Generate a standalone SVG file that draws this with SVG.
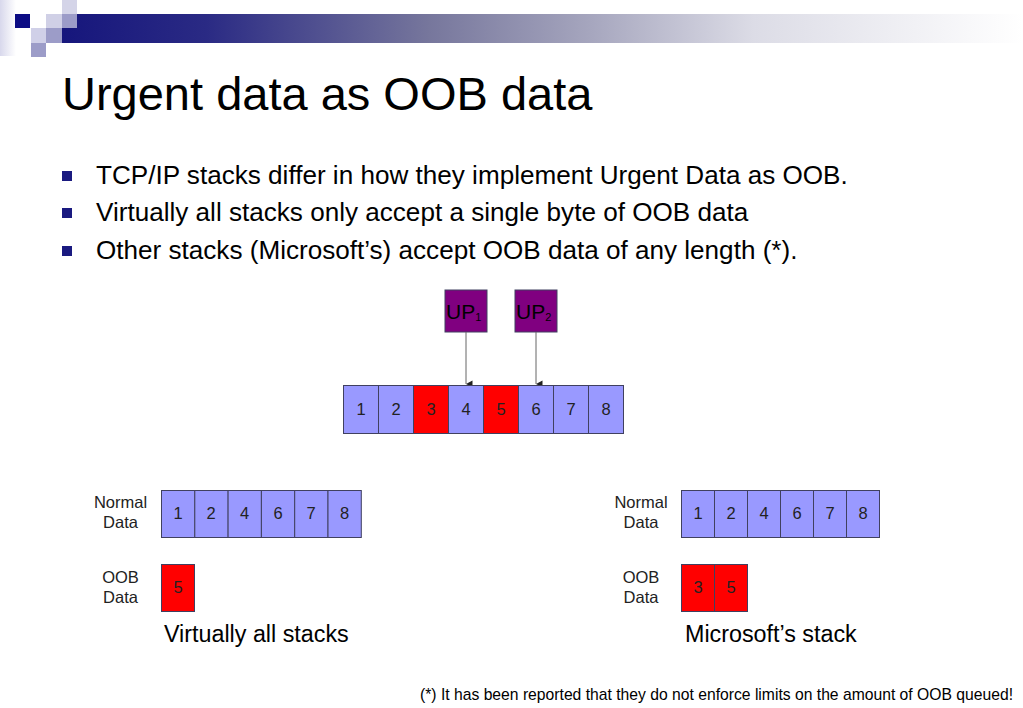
<svg xmlns="http://www.w3.org/2000/svg" width="1023" height="708" viewBox="0 0 1023 708">
<defs>
<linearGradient id="bar" x1="0" y1="0" x2="1" y2="0">
<stop offset="0" stop-color="#16167c"/>
<stop offset="0.15" stop-color="#2a2a84"/>
<stop offset="0.38" stop-color="#76769c"/>
<stop offset="0.55" stop-color="#a6a6be"/>
<stop offset="0.72" stop-color="#dcdce6"/>
<stop offset="1" stop-color="#ffffff"/>
</linearGradient>
<linearGradient id="glow" x1="0" y1="0" x2="1" y2="0">
<stop offset="0" stop-color="#d8d8ec"/>
<stop offset="1" stop-color="#ffffff"/>
</linearGradient>
<marker id="ah" markerWidth="8" markerHeight="8" refX="4" refY="7" orient="auto" markerUnits="userSpaceOnUse">
<path d="M0.5,0.5 L4,7 L7.5,0.5 Z" fill="#222"/>
</marker>
<style>
.t{font-family:"Liberation Sans",Arial,sans-serif;fill:#000}
.c{font-family:"Liberation Sans",Arial,sans-serif;fill:#222;font-size:16.5px;text-anchor:middle}
.lab{font-family:"Liberation Sans",Arial,sans-serif;fill:#222;font-size:16.5px;text-anchor:middle}
.n{fill:#9999ff;stroke:#404060;stroke-width:1}
.r{fill:#ff0000;stroke:#404060;stroke-width:1}
.up{fill:#800080;stroke:#404060;stroke-width:1}
.b{fill:#1a1a80}
</style>
</defs>
<g id="header">
<rect x="0" y="0" width="16" height="56" fill="url(#glow)"/>
<rect x="62" y="14" width="961" height="29" fill="url(#bar)"/>
<rect x="15" y="14" width="15" height="14" fill="#0c0c84"/>
<rect x="46" y="14" width="16" height="14" fill="#d0d0e6"/>
<rect x="62" y="0" width="15" height="14" fill="#d4d4e8"/>
<rect x="62" y="14" width="15" height="14" fill="#9c9cc8"/>
<rect x="31" y="28" width="15" height="15" fill="#d0d0e8"/>
<rect x="46" y="28" width="16" height="15" fill="#9c9cc8"/>
<rect x="31" y="43" width="15" height="14" fill="#9c9cc8"/>
</g>
<g id="title">
<text class="t" x="62" y="110" font-size="47">Urgent data as OOB data</text>
</g>
<g id="bullets">
<rect class="b" x="62" y="171" width="10" height="10"/>
<rect class="b" x="62" y="208" width="10" height="10"/>
<rect class="b" x="62" y="246" width="10" height="10"/>
<text class="t" x="96" y="184" font-size="26.1">TCP/IP stacks differ in how they implement Urgent Data as OOB.</text>
<text class="t" x="96" y="221" font-size="26.1">Virtually all stacks only accept a single byte of OOB data</text>
<text class="t" x="96" y="259" font-size="26.1">Other stacks (Microsoft’s) accept OOB data of any length (*).</text>
</g>
<g id="up1">
<rect class="up" x="445" y="290" width="42" height="42"/>
<text class="t" x="446" y="319" font-size="21" fill="#222">UP<tspan font-size="11" dy="2">1</tspan></text>
</g>
<g id="up2">
<rect class="up" x="515" y="290" width="42" height="42"/>
<text class="t" x="516" y="319" font-size="21" fill="#222">UP<tspan font-size="11" dy="2">2</tspan></text>
</g>
<g id="connectors">
<line x1="466" y1="332" x2="466" y2="384" stroke="#666" stroke-width="1" marker-end="url(#ah)"/>
<line x1="536" y1="332" x2="536" y2="384" stroke="#666" stroke-width="1" marker-end="url(#ah)"/>
</g>
<g id="stream">
<rect class="n" x="343.5" y="385.5" width="35" height="48"/>
<rect class="n" x="378.5" y="385.5" width="35" height="48"/>
<rect class="r" x="413.5" y="385.5" width="35" height="48"/>
<rect class="n" x="448.5" y="385.5" width="35" height="48"/>
<rect class="r" x="483.5" y="385.5" width="35" height="48"/>
<rect class="n" x="518.5" y="385.5" width="35" height="48"/>
<rect class="n" x="553.5" y="385.5" width="35" height="48"/>
<rect class="n" x="588.5" y="385.5" width="35" height="48"/>
<text class="c" x="361" y="415">1</text>
<text class="c" x="396" y="415">2</text>
<text class="c" x="431" y="415">3</text>
<text class="c" x="466" y="415">4</text>
<text class="c" x="501" y="415">5</text>
<text class="c" x="536" y="415">6</text>
<text class="c" x="571" y="415">7</text>
<text class="c" x="606" y="415">8</text>
</g>
<g id="left-normal">
<text class="lab" x="120.5" y="508">Normal</text>
<text class="lab" x="120.5" y="528">Data</text>
<rect class="n" x="161.5" y="490.5" width="33.3" height="47"/>
<rect class="n" x="194.8" y="490.5" width="33.3" height="47"/>
<rect class="n" x="228.1" y="490.5" width="33.3" height="47"/>
<rect class="n" x="261.4" y="490.5" width="33.3" height="47"/>
<rect class="n" x="294.7" y="490.5" width="33.3" height="47"/>
<rect class="n" x="328" y="490.5" width="33.3" height="47"/>
<text class="c" x="178" y="519">1</text>
<text class="c" x="211" y="519">2</text>
<text class="c" x="244.5" y="519">4</text>
<text class="c" x="278" y="519">6</text>
<text class="c" x="311" y="519">7</text>
<text class="c" x="344.5" y="519">8</text>
</g>
<g id="left-oob">
<text class="lab" x="120.5" y="583">OOB</text>
<text class="lab" x="120.5" y="603">Data</text>
<rect class="r" x="161.5" y="564.5" width="33" height="47"/>
<text class="c" x="178" y="593">5</text>
</g>
<g id="right-normal">
<text class="lab" x="641" y="508">Normal</text>
<text class="lab" x="641" y="528">Data</text>
<rect class="n" x="681.5" y="490.5" width="33" height="47"/>
<rect class="n" x="714.5" y="490.5" width="33" height="47"/>
<rect class="n" x="747.5" y="490.5" width="33" height="47"/>
<rect class="n" x="780.5" y="490.5" width="33" height="47"/>
<rect class="n" x="813.5" y="490.5" width="33" height="47"/>
<rect class="n" x="846.5" y="490.5" width="33" height="47"/>
<text class="c" x="698" y="519">1</text>
<text class="c" x="731" y="519">2</text>
<text class="c" x="764" y="519">4</text>
<text class="c" x="797" y="519">6</text>
<text class="c" x="830" y="519">7</text>
<text class="c" x="863" y="519">8</text>
</g>
<g id="right-oob">
<text class="lab" x="641" y="583">OOB</text>
<text class="lab" x="641" y="603">Data</text>
<rect class="r" x="681.5" y="564.5" width="33" height="47"/>
<rect class="r" x="714.5" y="564.5" width="33" height="47"/>
<text class="c" x="698" y="593">3</text>
<text class="c" x="731" y="593">5</text>
</g>
<g id="captions">
<text class="t" x="164" y="642" font-size="23.3">Virtually all stacks</text>
<text class="t" x="685" y="642" font-size="23.3">Microsoft’s stack</text>
<text class="t" x="420" y="700" font-size="15.7">(*) It has been reported that they do not enforce limits on the amount of OOB queued!</text>
</g>
</svg>
